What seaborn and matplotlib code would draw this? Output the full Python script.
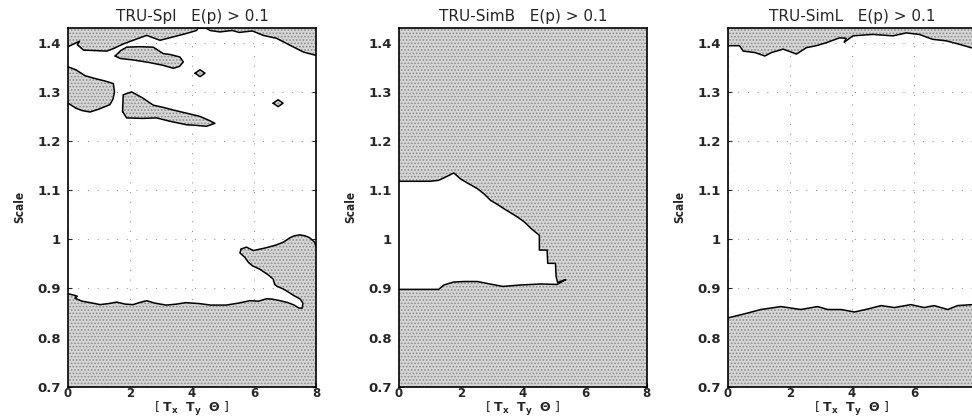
import matplotlib
matplotlib.use('Agg')
import matplotlib.pyplot as plt
import seaborn as sns
import pandas as pd

# axes ranges, ticks, titles
x_lim = [0, 8]
y_lim = [0.7, 1.43]
x_ticks = [0, 2, 4, 6, 8]
y_ticks = [0.7, 0.8, 0.9, 1.0, 1.1, 1.2, 1.3, 1.4]
y_tick_labels = ['0.7', '0.8', '0.9', '1', '1.1', '1.2', '1.3', '1.4']
titles = ['TRU-Spl   E(p) > 0.1', 'TRU-SimB   E(p) > 0.1', 'TRU-SimL   E(p) > 0.1']
x_label = r'$[\ \mathbf{T_x}\ \ \mathbf{T_y}\ \ \mathbf{\Theta}\ ]$'
y_label = 'Scale'

# TRU-Spl : lower region boundary (x=0 -> x=8)
spl_low_x = [0, 0.15, 0.3, 0.22, 0.45, 0.8, 1.03, 1.3, 1.57, 1.85, 2.1, 2.3, 2.54, 2.8, 3.17, 3.5,
             3.8, 4.25, 4.6, 5.1, 5.5, 5.87, 6.15, 6.41, 6.6, 6.84, 7.1, 7.3, 7.45, 7.56, 7.58, 7.5,
             7.27, 7.1, 6.94, 6.75, 6.67, 6.62, 6.45, 6.19, 5.95, 5.82, 5.71, 5.55, 5.58, 5.76, 5.98,
             6.2, 6.41, 6.7, 6.95, 7.16, 7.3, 7.48, 7.65, 7.8, 7.96, 8.0]
spl_low_y = [0.889, 0.887, 0.884, 0.880, 0.874, 0.870, 0.867, 0.869, 0.872, 0.868, 0.867, 0.871,
             0.875, 0.870, 0.866, 0.868, 0.871, 0.869, 0.866, 0.866, 0.870, 0.875, 0.874, 0.879,
             0.878, 0.875, 0.871, 0.866, 0.860, 0.860, 0.870, 0.878, 0.886, 0.893, 0.899, 0.904,
             0.908, 0.919, 0.928, 0.939, 0.946, 0.953, 0.963, 0.972, 0.980, 0.984, 0.977, 0.980,
             0.983, 0.988, 0.994, 1.003, 1.007, 1.009, 1.007, 1.003, 0.994, 0.985]
# TRU-Spl : upper region boundary (x=0 -> x=8)
spl_top_x = [0, 0.2, 0.37, 0.3, 0.5, 0.9, 1.25, 1.46, 1.8, 2.1, 2.54, 2.75, 2.97, 3.4, 3.83, 4.15,
             4.2, 4.45, 4.58, 4.9, 5.3, 5.52, 5.95, 6.3, 6.73, 7.16, 7.6, 7.96, 8.0]
spl_top_y = [1.392, 1.398, 1.403, 1.396, 1.385, 1.384, 1.383, 1.388, 1.398, 1.405, 1.415, 1.410,
             1.405, 1.412, 1.419, 1.425, 1.43, 1.43, 1.425, 1.422, 1.425, 1.421, 1.424, 1.415,
             1.409, 1.395, 1.381, 1.375, 1.375]
# TRU-Spl : islands
spl_a_x = [0, 0.25, 0.55, 0.82, 1.2, 1.46, 1.5, 1.45, 1.35, 1.0, 0.71, 0.45, 0.25, 0]
spl_a_y = [1.351, 1.345, 1.333, 1.328, 1.322, 1.317, 1.300, 1.285, 1.274, 1.265, 1.259, 1.262,
           1.267, 1.277]
spl_b_x = [1.52, 1.7, 1.89, 2.3, 2.75, 3.07, 3.3, 3.61, 3.72, 3.6, 3.4, 3.07, 2.6, 2.1, 1.68, 1.52]
spl_b_y = [1.373, 1.384, 1.391, 1.392, 1.391, 1.378, 1.376, 1.371, 1.361, 1.352, 1.348, 1.354,
           1.360, 1.365, 1.368, 1.373]
spl_c_x = [1.76, 1.78, 2.05, 2.4, 2.75, 3.1, 3.4, 3.8, 4.26, 4.55, 4.74, 4.47, 4.1, 3.83, 3.3, 2.86,
           2.4, 1.89, 1.76]
spl_c_y = [1.260, 1.294, 1.300, 1.288, 1.273, 1.268, 1.263, 1.257, 1.250, 1.242, 1.236, 1.230,
           1.232, 1.233, 1.240, 1.247, 1.246, 1.247, 1.260]
spl_d1_x = [4.1, 4.26, 4.42, 4.26, 4.1]
spl_d1_y = [1.338, 1.345, 1.338, 1.331, 1.338]
spl_d2_x = [6.62, 6.78, 6.94, 6.78, 6.62]
spl_d2_y = [1.277, 1.284, 1.277, 1.270, 1.277]

# TRU-SimB : white (below threshold) region
simb_x = [0, 1.01, 1.28, 1.55, 1.77, 1.98, 2.25, 2.53, 2.75, 2.96, 3.2, 3.39, 3.6, 3.83, 4.05, 4.26,
          4.53, 4.53, 4.78, 4.8, 5.05, 5.07, 5.12, 5.38, 5.1, 4.6, 3.93, 3.35, 2.85, 2.53, 2.1, 1.77,
          1.45, 1.28, 0]
simb_y = [1.118, 1.118, 1.120, 1.128, 1.135, 1.123, 1.113, 1.103, 1.092, 1.079, 1.070, 1.062,
          1.054, 1.045, 1.035, 1.022, 1.008, 0.978, 0.978, 0.951, 0.951, 0.924, 0.912, 0.918,
          0.908, 0.909, 0.907, 0.904, 0.910, 0.914, 0.914, 0.913, 0.907, 0.898, 0.898]

# TRU-SimL : upper and lower region boundaries
siml_top_x = [0, 0.37, 0.49, 0.87, 1.19, 1.4, 1.78, 2.21, 2.53, 2.85, 3.17, 3.6, 3.81, 3.75, 4.03,
              4.67, 5.32, 5.75, 6.17, 6.6, 7.03, 7.46, 7.84, 8.0]
siml_top_y = [1.394, 1.394, 1.383, 1.380, 1.373, 1.380, 1.387, 1.377, 1.390, 1.394, 1.400, 1.410,
              1.409, 1.401, 1.414, 1.417, 1.414, 1.420, 1.417, 1.407, 1.404, 1.397, 1.390, 1.388]
siml_low_x = [0, 0.52, 1.06, 1.71, 2.03, 2.35, 2.89, 3.22, 3.65, 4.08, 4.51, 4.94, 5.37, 5.9, 6.33,
              6.65, 7.09, 7.41, 7.9, 8.0]
siml_low_y = [0.840, 0.848, 0.857, 0.863, 0.860, 0.857, 0.863, 0.857, 0.857, 0.852, 0.858, 0.865,
              0.861, 0.867, 0.861, 0.865, 0.857, 0.865, 0.867, 0.867]

GRAY = '#d6d6d6'
DOTS = '#8c8c8c'

sns.set_style('ticks')
plt.rcParams['font.family'] = ['DejaVu Sans']
plt.rcParams['hatch.linewidth'] = 0.8


def shade(ax, xs, ys, close_y=None, face=GRAY, hatch='.....'):
    px, py = list(xs), list(ys)
    if close_y is not None:
        px += [xs[-1], xs[0]]
        py += [close_y, close_y]
    ax.fill(px, py, facecolor=face, edgecolor=DOTS if hatch else face, hatch=hatch,
            linewidth=0, zorder=1)


def outline(ax, xs, ys):
    df = pd.DataFrame({'x': xs, 'y': ys})
    sns.lineplot(data=df, x='x', y='y', sort=False, estimator=None, color='black',
                 linewidth=1.1, ax=ax, zorder=3)


fig = plt.figure(figsize=(9.72, 4.18), dpi=100)
lefts = [0.070, 0.4105, 0.749]
axes = [fig.add_axes([l, 0.075, 0.255, 0.858]) for l in lefts]

# panel 1
ax = axes[0]
shade(ax, spl_low_x, spl_low_y, close_y=y_lim[0])
shade(ax, spl_top_x, spl_top_y, close_y=y_lim[1])
outline(ax, spl_low_x, spl_low_y)
outline(ax, spl_top_x, spl_top_y)
for bx, by in [(spl_a_x, spl_a_y), (spl_b_x, spl_b_y), (spl_c_x, spl_c_y),
               (spl_d1_x, spl_d1_y), (spl_d2_x, spl_d2_y)]:
    shade(ax, bx, by)
    outline(ax, bx, by)

# panel 2
ax = axes[1]
shade(ax, [x_lim[0], x_lim[1], x_lim[1], x_lim[0]], [y_lim[0], y_lim[0], y_lim[1], y_lim[1]])
shade(ax, simb_x, simb_y, face='white', hatch=None)
outline(ax, simb_x, simb_y)

# panel 3
ax = axes[2]
shade(ax, siml_low_x, siml_low_y, close_y=y_lim[0])
shade(ax, siml_top_x, siml_top_y, close_y=y_lim[1])
outline(ax, siml_low_x, siml_low_y)
outline(ax, siml_top_x, siml_top_y)

for i, (ax, title) in enumerate(zip(axes, titles)):
    ax.set_xlim(x_lim)
    ax.set_ylim(y_lim)
    ax.set_xticks(x_ticks)
    # the last panel is cut by the page edge: its "8" is not visible
    xl = [str(t) for t in x_ticks]
    if i == 2:
        xl[-1] = ''
    ax.set_xticklabels(xl, fontsize=8.5, fontweight='bold')
    ax.set_yticks(y_ticks)
    ax.set_yticklabels(y_tick_labels, fontsize=9.5, fontweight='bold')
    ax.tick_params(direction='in', length=3, width=0.8, top=False, right=True, pad=5)
    ax.tick_params(axis='x', pad=0)
    ax.grid(True, linestyle=(0, (1, 9)), color='#888888', linewidth=0.7)
    ax.set_axisbelow(True)
    ax.set_title(title, fontsize=11, pad=5)
    ax.set_xlabel(x_label, fontsize=9, labelpad=0)
    ax.set_ylabel(y_label, fontsize=8.5, fontweight='bold', fontstretch='condensed', labelpad=8)
    for s in ax.spines.values():
        s.set_color('black')
        s.set_linewidth(1.2)
        s.set_zorder(4)

fig.savefig('out.png', dpi=100)
